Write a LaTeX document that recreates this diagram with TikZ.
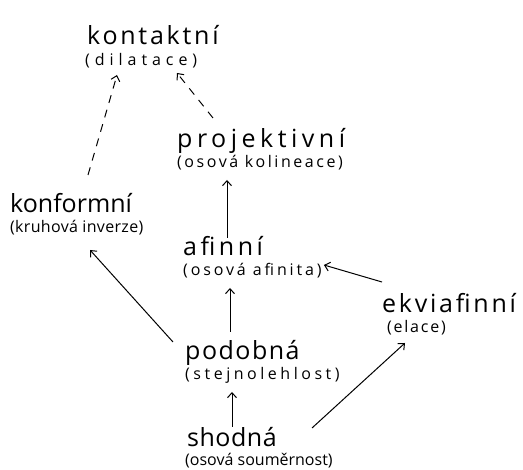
\documentclass[tikz,border=0pt]{standalone}
\usepackage{fontspec}
\newfontfamily\handfont{Open Sans}
\usetikzlibrary{arrows.meta}

\begin{document}
\begin{tikzpicture}[x=1pt, y=1pt,
    >={Straight Barb[length=5pt, width=9pt]},
    word/.style={anchor=base west, inner sep=0pt,
      font={\fontsize{25}{29}\handfont\addfontfeature{LetterSpace=#1}}},
    word/.default=10,
    note/.style={anchor=base west, inner sep=0pt,
      font={\fontsize{16}{19}\handfont\addfontfeature{LetterSpace=#1}}},
    note/.default=15,
    arrow/.style={->, line width=1pt},
    dasharrow/.style={arrow, dash pattern=on 8pt off 7pt}]
  \useasboundingbox (0,0) rectangle (523,-470);

  % groups of transformations
  \node[word=11] (kont) at (87,-45) {kontaktní};
  \node[note=31] (kontS) at (85,-66) {(dilatace)};
  \node[word=18] (proj) at (177,-148) {projektivní};
  \node[note=16] (projS) at (177,-168) {(osová kolineace)};
  \node[word=0] (konf) at (10,-213) {konformní};
  \node[note=2] (konfS) at (10,-233) {(kruhová inverze)};
  \node[word=14] (afin) at (183,-256) {afinní};
  \node[note=18] (afinS) at (183,-276) {(osová afinita)};
  \node[word=11] (ekvi) at (382,-313) {ekviafinní};
  \node[note=11] (ekviS) at (387,-333) {(elace)};
  \node[word=6] (podo) at (185,-360) {podobná};
  \node[note=22] (podoS) at (185,-380) {(stejnolehlost)};
  \node[word=2] (shod) at (187,-447) {shodná};
  \node[note=0] (shodS) at (185,-466) {(osová souměrnost)};

  % inclusions
  \draw[dasharrow] ([shift={(78,38)}]konf.base west) -- ([shift={(32,-9)}]kontS.base west);
  \draw[dasharrow] ([shift={(36,30)}]proj.base west) -- ([shift={(92,-7)}]kontS.base west);
  \draw[arrow] ([shift={(44,18)}]afin.base west) -- ([shift={(50,-12)}]projS.base west);
  \draw[arrow] ([shift={(45,28)}]podo.base west) -- ([shift={(47,-12)}]afinS.base west);
  \draw[arrow] ([shift={(45,20)}]shod.base west) -- ([shift={(47,-12)}]podoS.base west);
  \draw[arrow] ([shift={(-12,18)}]podo.base west) -- ([shift={(80,-17)}]konfS.base west);
  \draw[arrow] ([shift={(0,31)}]ekvi.base west) -- ([shift={(2,11)}]afinS.base east);
  \draw[arrow] ([shift={(125,19)}]shod.base west) -- ([shift={(18,-10)}]ekviS.base west);
\end{tikzpicture}
\end{document}
